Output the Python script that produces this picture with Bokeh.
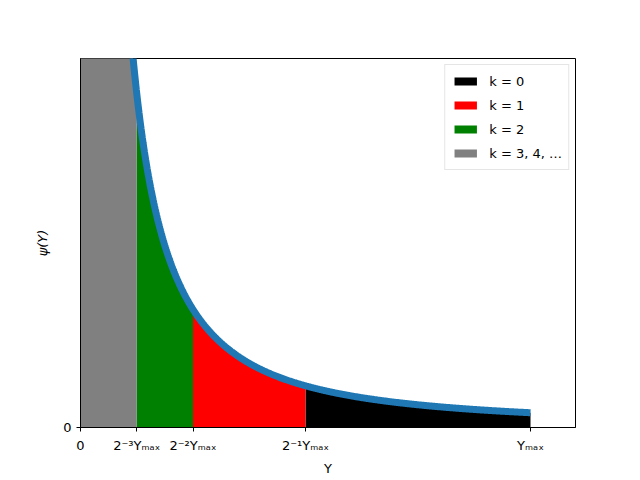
import numpy as np
from bokeh.plotting import figure
from bokeh.models import Range1d, FixedTicker, Legend, LegendItem
from bokeh.embed import file_html
from bokeh.resources import INLINE

# ---- data ----
Y_MAX = 1.0
PSI_EXPONENT = -1.5          # psi(Y) = Y^(-3/2)
band_labels = ["k = 0", "k = 1", "k = 2", "k = 3, 4, …"]
band_lo = [Y_MAX / 2, Y_MAX / 4, Y_MAX / 8, 0.0]
band_hi = [Y_MAX, Y_MAX / 2, Y_MAX / 4, Y_MAX / 8]
band_colors = ["black", "red", "green", "gray"]
x_tick_vals = [0.0, Y_MAX / 8, Y_MAX / 4, Y_MAX / 2, Y_MAX]
x_tick_labels = ["0", "2⁻³Yₘₐₓ", "2⁻²Yₘₐₓ", "2⁻¹Yₘₐₓ", "Yₘₐₓ"]
x_limits = (0.0, 1.1)
y_limits = (0.0, 25.0)


def psi(y):
    return y ** PSI_EXPONENT


p = figure(width=640, height=480, output_backend="svg", toolbar_location=None,
           x_range=Range1d(*x_limits), y_range=Range1d(*y_limits),
           min_border_left=80, min_border_right=65, min_border_top=58, min_border_bottom=53)
p.background_fill_color = "white"
p.border_fill_color = "white"
p.outline_line_color = "black"
p.outline_line_width = 1
p.xgrid.visible = False
p.ygrid.visible = False

items = []
for lab, lo, hi, col in zip(band_labels, band_lo, band_hi, band_colors):
    start = lo if lo > 0 else 1e-3
    xs = np.linspace(start, hi, 400)
    xs = np.concatenate([[lo], xs]) if lo == 0 else xs
    ys = psi(np.maximum(xs, 1e-3))
    ys = np.minimum(ys, y_limits[1] * 4)
    r = p.varea(x=xs, y1=np.zeros_like(xs), y2=ys, fill_color=col)
    items.append(LegendItem(label=lab, renderers=[r]))

xc = np.linspace(0.1, Y_MAX, 600)
p.line(xc, psi(xc), line_color="#1f77b4", line_width=7)

legend = Legend(items=items, location="top_right")
legend.glyph_width = 28
legend.glyph_height = 10
legend.label_height = 20
legend.spacing = 4
legend.padding = 6
legend.margin = 6
legend.label_standoff = 10
legend.label_text_font = "DejaVu Sans"
legend.label_text_font_size = "13px"
legend.label_text_color = "black"
legend.border_line_color = "#cccccc"
legend.border_line_width = 1
legend.background_fill_alpha = 0.8
p.add_layout(legend)

for ax in (p.xaxis, p.yaxis):
    ax.major_tick_in = 0
    ax.major_tick_out = 4
    ax.major_tick_line_color = "black"
    ax.minor_tick_line_color = None
    ax.major_label_text_font = "DejaVu Sans"
    ax.major_label_text_font_size = "13px"
    ax.major_label_text_color = "black"
    ax.axis_label_text_font = "DejaVu Sans"
    ax.axis_label_text_font_size = "13px"
    ax.axis_label_text_font_style = "normal"
    ax.axis_label_text_color = "black"
    ax.axis_line_color = "black"

p.xaxis.ticker = FixedTicker(ticks=x_tick_vals)
p.xaxis.major_label_overrides = {v: s for v, s in zip(x_tick_vals, x_tick_labels)}
p.yaxis.ticker = FixedTicker(ticks=[0])
p.xaxis.axis_label = "Y"
p.yaxis.axis_label = "ψ(Y)"
p.yaxis.axis_label_text_font_style = "italic"
p.xaxis.major_label_standoff = 6
p.xaxis.axis_label_standoff = 5
p.yaxis.axis_label_standoff = 10

open("out.html", "w").write(file_html(p, INLINE))
